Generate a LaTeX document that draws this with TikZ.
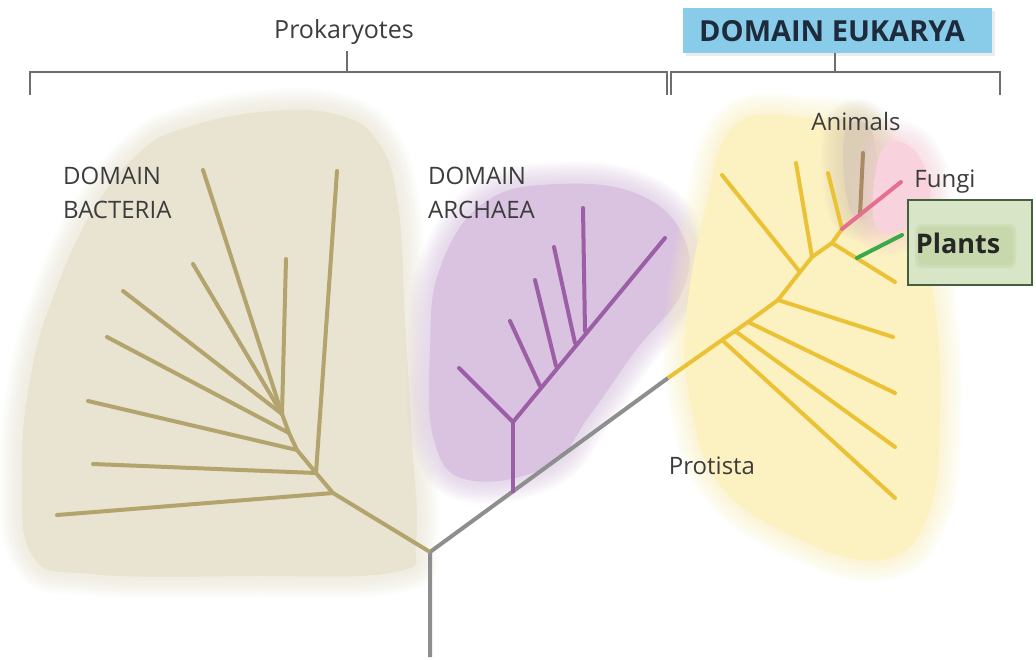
\documentclass[tikz,border=0pt]{standalone}
\usepackage{fontspec}
\setmainfont{Open Sans}
\definecolor{bactbg}{HTML}{E9E3D2}
\definecolor{bact}{HTML}{B3A36D}
\definecolor{archbg}{HTML}{D9C3E0}
\definecolor{arch}{HTML}{9C5FA6}
\definecolor{eukbg}{HTML}{FCF1C0}
\definecolor{euk}{HTML}{EBC235}
\definecolor{root}{HTML}{8E8E8E}
\definecolor{pinkln}{HTML}{E66F8F}
\definecolor{pinkbg}{HTML}{F8D2DC}
\definecolor{animln}{HTML}{A88B60}
\definecolor{animbg}{HTML}{DCCDB6}
\definecolor{greenln}{HTML}{3AA84B}
\definecolor{plantbg}{HTML}{D8E5C6}
\definecolor{plantin}{HTML}{C0D4A2}
\definecolor{plantbd}{HTML}{44613F}
\definecolor{bluebox}{HTML}{88CCE9}
\definecolor{navy}{HTML}{1E2B3C}
\definecolor{txt}{HTML}{3C3C3C}
\definecolor{brk}{HTML}{6E6E6E}
\newcommand\softblob[2]{%
  \foreach \w in {44,40,36,32,28,24,20,16,12,8,4}
    \draw[#1,line width=\w pt,opacity=0.07,line join=round] plot[smooth cycle,tension=0.7] coordinates {#2};
  \fill[#1] plot[smooth cycle,tension=0.7] coordinates {#2};}
\tikzset{
  lbl/.style={text=txt,font=\fontsize{24}{34}\selectfont,inner sep=0pt},
  bline/.style={bact,line width=4pt,line cap=round},
  aline/.style={arch,line width=4pt,line cap=round},
  eline/.style={euk,line width=4pt,line cap=round},
  rline/.style={root,line width=4pt},
  brack/.style={brk,line width=2.8pt},
}
\begin{document}
\begin{tikzpicture}[x=1pt,y=-1pt]
\path[use as bounding box,fill=white] (0,0) rectangle (1036,659);
% backgrounds
\softblob{bactbg}{(185,128) (260,112) (335,114) (378,142) (398,205) (405,320) (412,440) (416,540) (395,572) (250,576) (90,574) (32,555) (22,470) (30,380) (52,300) (92,212) (140,152)}
\softblob{archbg}{(485,202) (560,184) (640,195) (684,238) (682,292) (636,350) (590,415) (548,466) (468,480) (434,440) (430,350) (440,268)}
\softblob{eukbg}{(735,125) (810,118) (868,132) (915,205) (934,300) (940,410) (928,515) (880,560) (790,535) (718,482) (690,400) (686,320) (705,210)}
\softblob{animbg}{(845,132) (872,132) (876,208) (850,210)}
\softblob{pinkbg}{(882,150) (914,150) (930,198) (902,230) (874,222)}
% brackets
\coordinate (pl) at (30,95); \coordinate (pr) at (667,95);
\coordinate (el) at (671,95); \coordinate (er) at (1000,95);
\draw[brack] (pl) -- (30,72) -- (667,72) -- (pr);
\draw[brack] (el) -- (671,72) -- (1000,72) -- (er);
\node[lbl,font=\fontsize{25}{30}\selectfont] (prok) at (344,32) {Prokaryotes};
\draw[brk,line width=2pt] (347,51) -- (347,72);
\fill[black,opacity=0.08] (686,11) rectangle (995,56);
\node[fill=bluebox,minimum width=309pt,minimum height=45pt,inner sep=0pt] (eukbox) at (837.5,30.5) {};
\node[text=navy,font=\bfseries\fontsize{29}{32}\selectfont,inner sep=0pt] (euklbl) at (832,31) {DOMAIN EUKARYA};
\draw[brk,line width=2pt] (eukbox.south -| 835,0) -- (835,72);
% labels
\node[lbl,align=left,anchor=north west] (bactlbl) at (63,167) {DOMAIN\\BACTERIA};
\node[lbl,align=left,anchor=north west] (archlbl) at (428,167) {DOMAIN\\ARCHAEA};
\node[lbl] (animlbl) at (856,121) {Animals};
\node[lbl] (fungilbl) at (945,182) {Fungi};
\node[lbl] (protlbl) at (712,466) {Protista};
% plants box
\node[draw=plantbd,line width=1.5pt,fill=plantbg,minimum width=124pt,minimum height=85pt,inner sep=0pt] (plantbox) at (970,242.5) {};
\foreach \w in {10,7,4}
  \fill[plantin,opacity=0.3,rounded corners=6pt] (913+\w/2,222+\w/2) rectangle (1018-\w/2,270-\w/2);
\node[text=black!85,font=\bfseries\fontsize{27}{30}\selectfont,inner sep=0pt] (plantlbl) at (958,243) {Plants};
% root
\coordinate (r0) at (430,552);
\coordinate (rb) at (430,657);
\coordinate (eb) at (668,378);
\draw[rline] (rb) -- (r0) -- (eb);
% bacteria
\coordinate (b1) at (333,493); \coordinate (b2) at (316,473); \coordinate (b3) at (297,450);
\coordinate (b4) at (289,433); \coordinate (b5) at (282,414);
\coordinate (tA) at (57,515); \coordinate (tB) at (93,464); \coordinate (tC) at (88,401);
\coordinate (tD) at (107,337); \coordinate (tE) at (123,291); \coordinate (tF) at (193,264);
\coordinate (tG) at (203,170); \coordinate (tH) at (286,259); \coordinate (tI) at (337,171);
\draw[bline,line cap=butt] (r0) -- (b1) -- (b2) -- (b3) -- (b4) -- (b5);
\draw[bline] (b1) -- (tA); \draw[bline] (b2) -- (tB); \draw[bline] (b2) -- (tI);
\draw[bline] (b3) -- (tC); \draw[bline] (b4) -- (tD); \draw[bline] (b5) -- (tE);
\draw[bline] (b5) -- (tF); \draw[bline] (b5) -- (tG); \draw[bline] (b5) -- (tH);
% archaea
\coordinate (a0) at (513,493); \coordinate (af) at (513,422);
\coordinate (aL) at (459,368); \coordinate (aT) at (665,238);
\coordinate (a1) at (540,386); \coordinate (a1t) at (510,321);
\coordinate (a2) at (556,366); \coordinate (a2t) at (535,280);
\coordinate (a3) at (575,343); \coordinate (a3t) at (554,247);
\coordinate (a4) at (585,331); \coordinate (a4t) at (583,208);
\draw[aline,line cap=butt] (a0) -- (af);
\draw[aline] (af) -- (aL); \draw[aline] (af) -- (aT);
\draw[aline] (a1) -- (a1t); \draw[aline] (a2) -- (a2t);
\draw[aline] (a3) -- (a3t); \draw[aline] (a4) -- (a4t);
% eukarya
\coordinate (e1) at (722,340); \coordinate (e2) at (735,331); \coordinate (e3) at (748,322);
\coordinate (e4) at (778,300); \coordinate (e5) at (800,272); \coordinate (e6) at (812,257);
\coordinate (e7) at (832,243); \coordinate (e8) at (842,229);
\coordinate (f1) at (895,498); \coordinate (f2) at (895,447); \coordinate (f3) at (895,393);
\coordinate (f4) at (893,337); \coordinate (f5) at (722,175); \coordinate (f6) at (796,163);
\coordinate (f8) at (828,173); \coordinate (f7) at (895,282);
\coordinate (g0) at (857,258); \coordinate (g1) at (902,235);
\coordinate (fun) at (901,182); \coordinate (an0) at (860,215); \coordinate (an1) at (863,153);
\draw[eline,line cap=butt] (eb) -- (e1) -- (e2) -- (e3) -- (e4) -- (e5) -- (e6) -- (e7) -- (e8);
\draw[eline] (e1) -- (f1); \draw[eline] (e2) -- (f2); \draw[eline] (e3) -- (f3);
\draw[eline] (e4) -- (f4); \draw[eline] (e5) -- (f5); \draw[eline] (e6) -- (f6);
\draw[eline] (e8) -- (f8); \draw[eline] (e7) -- (f7);
\draw[greenln,line width=4pt,line cap=round] (g0) -- (g1);
\draw[animln,line width=4pt,line cap=round] (an0) -- (an1);
\draw[pinkln,line width=4pt,line cap=round] (e8) -- (fun);
\end{tikzpicture}
\end{document}
